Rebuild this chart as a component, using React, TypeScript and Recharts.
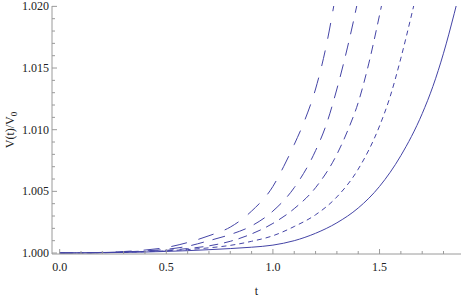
import React from 'react';
import { LineChart, Line, XAxis, YAxis, Label } from 'recharts';

// ---- data ----
const tA = [0, 0.1, 0.2, 0.3, 0.4, 0.5, 0.6, 0.7, 0.8, 0.9, 1.0, 1.1, 1.2, 1.3, 1.4, 1.5, 1.6, 1.7, 1.75, 1.8, 1.85, 1.9];
const vA = [1, 1.00001, 1.00002, 1.00005, 1.00008, 1.00013, 1.00019, 1.00027, 1.00036, 1.00047, 1.00064, 1.001, 1.0016, 1.00245, 1.00365, 1.0054, 1.0079, 1.0113, 1.0135, 1.0162, 1.0194, 1.0229];

const tB = [0, 0.1, 0.2, 0.3, 0.4, 0.5, 0.6, 0.7, 0.8, 0.9, 1.0, 1.1, 1.2, 1.3, 1.4, 1.5, 1.55, 1.6, 1.65, 1.7];
const vB = [1, 1.00001, 1.00003, 1.00006, 1.00011, 1.00018, 1.00028, 1.00042, 1.00062, 1.00095, 1.0014, 1.00215, 1.0031, 1.00455, 1.0068, 1.0103, 1.0127, 1.0158, 1.0193, 1.023];

const tC = [0, 0.1, 0.2, 0.3, 0.4, 0.5, 0.6, 0.7, 0.8, 0.9, 1.0, 1.1, 1.2, 1.3, 1.35, 1.4, 1.45, 1.5, 1.55];
const vC = [1, 1.00001, 1.00003, 1.00007, 1.00013, 1.00022, 1.00036, 1.00058, 1.00095, 1.00155, 1.0024, 1.0036, 1.0053, 1.008, 1.0099, 1.0122, 1.0154, 1.0193, 1.0235];

const tD = [0, 0.1, 0.2, 0.3, 0.4, 0.5, 0.6, 0.7, 0.8, 0.9, 1.0, 1.1, 1.2, 1.25, 1.3, 1.35, 1.4, 1.45];
const vD = [1, 1.00001, 1.00004, 1.00009, 1.00017, 1.0003, 1.00055, 1.001, 1.0015, 1.0022, 1.0034, 1.0053, 1.0083, 1.0104, 1.0133, 1.0167, 1.0206, 1.025];

const tE = [0, 0.1, 0.2, 0.3, 0.4, 0.5, 0.6, 0.7, 0.8, 0.9, 1.0, 1.05, 1.1, 1.15, 1.2, 1.25, 1.3];
const vE = [1, 1.00001, 1.00005, 1.00012, 1.00024, 1.00045, 1.00085, 1.0014, 1.0021, 1.0034, 1.0054, 1.007, 1.0088, 1.0108, 1.0133, 1.0168, 1.0215];

const xMajorTicks = [0, 0.5, 1.0, 1.5];
const xMajorLabels = ['0.0', '0.5', '1.0', '1.5'];
const xMinorTicks = [0.1, 0.2, 0.3, 0.4, 0.6, 0.7, 0.8, 0.9, 1.1, 1.2, 1.3, 1.4, 1.6, 1.7, 1.8];

const yMajorTicks = [1.0, 1.005, 1.01, 1.015, 1.02];
const yMajorLabels = ['1.000', '1.005', '1.010', '1.015', '1.020'];
const yMinorTicks = [1.001, 1.002, 1.003, 1.004, 1.006, 1.007, 1.008, 1.009, 1.011, 1.012, 1.013, 1.014, 1.016, 1.017, 1.018, 1.019];

const xDomain = [-0.036, 1.882];
const yDomain = [0.99992, 1.02003];

// ---- styles ----
const FRAME = '#9a9a9a';
const LINE = '#4444a6';
const FONT = "'Liberation Serif', 'Times New Roman', Times, Tinos, 'Nimbus Roman', 'DejaVu Serif', serif";
const textStyle = { fontFamily: FONT, fontSize: 12 };

const toPts = (ts: number[], vs: number[]) => ts.map((t, i) => ({ t, v: vs[i] }));
const series = [
  { name: 'a', data: toPts(tA, vA), dash: undefined as string | undefined },
  { name: 'b', data: toPts(tB, vB), dash: '5 4' },
  { name: 'c', data: toPts(tC, vC), dash: '9 6' },
  { name: 'd', data: toPts(tD, vD), dash: '13 9' },
  { name: 'e', data: toPts(tE, vE), dash: '16 12' },
];

const idxOf = (arr: number[], v: number) => arr.findIndex((m) => Math.abs(m - v) < 1e-7);

const makeXTick = (side: 'bottom' | 'top') => (props: any) => {
  const { x, y, payload } = props;
  const i = idxOf(xMajorTicks, payload.value);
  const len = i >= 0 ? 5 : 3;
  const dir = side === 'bottom' ? -1 : 1;
  return (
    <g>
      <line x1={x} x2={x} y1={y} y2={y + dir * len} stroke={FRAME} strokeWidth={1} />
      {side === 'bottom' && i >= 0 && (
        <text x={x} y={y + 17} textAnchor="middle" fontFamily={FONT} fontSize={12} fill="#222">
          {xMajorLabels[i]}
        </text>
      )}
    </g>
  );
};

const makeYTick = (side: 'left' | 'right') => (props: any) => {
  const { x, y, payload } = props;
  const i = idxOf(yMajorTicks, payload.value);
  const len = i >= 0 ? 5 : 3;
  const dir = side === 'left' ? 1 : -1;
  return (
    <g>
      <line x1={x} x2={x + dir * len} y1={y} y2={y} stroke={FRAME} strokeWidth={1} />
      {side === 'left' && i >= 0 && (
        <text x={x - 3} y={y + 4} textAnchor="end" fontFamily={FONT} fontSize={12} fill="#222">
          {yMajorLabels[i]}
        </text>
      )}
    </g>
  );
};

const xAll = [...xMajorTicks, ...xMinorTicks].sort((a, b) => a - b);
const yAll = [...yMajorTicks, ...yMinorTicks].sort((a, b) => a - b);

export default function App() {
  return (
    <div style={{ position: 'absolute', left: 0, top: 0, width: 463, height: 300, background: '#fff', fontFamily: FONT }}>
      <LineChart width={463} height={300} margin={{ top: 6, right: 2, bottom: 0, left: 2 }} style={{ fontFamily: FONT }}>
        <XAxis
          xAxisId="b"
          dataKey="t"
          type="number"
          domain={xDomain}
          allowDataOverflow
          ticks={xAll}
          interval={0}
          orientation="bottom"
          height={46}
          tickSize={0}
          tickMargin={0}
          tickLine={false}
          axisLine={{ stroke: FRAME }}
          tick={makeXTick('bottom')}
        >
          <Label
            content={(p: any) => {
              const vb = p.viewBox;
              return (
                <text x={vb.x + vb.width / 2} y={vb.y + 41} textAnchor="middle" fontFamily={FONT} fontSize={12} fill="#222">
                  t
                </text>
              );
            }}
          />
        </XAxis>
        <XAxis
          xAxisId="t"
          dataKey="t"
          type="number"
          domain={xDomain}
          allowDataOverflow
          ticks={xAll}
          interval={0}
          orientation="top"
          height={0}
          tickSize={0}
          tickMargin={0}
          tickLine={false}
          axisLine={{ stroke: FRAME }}
          tick={makeXTick('top')}
        />
        <YAxis
          yAxisId="l"
          type="number"
          domain={yDomain}
          allowDataOverflow
          ticks={yAll}
          interval={0}
          orientation="left"
          width={50}
          tickSize={0}
          tickMargin={0}
          tickLine={false}
          axisLine={{ stroke: FRAME }}
          tick={makeYTick('left')}
        >
          <Label
            content={(p: any) => {
              const vb = p.viewBox;
              const cy = vb.y + vb.height / 2;
              const cx = 14;
              return (
                <text
                  x={cx}
                  y={cy}
                  transform={`rotate(-90 ${cx} ${cy})`}
                  textAnchor="middle"
                  fontFamily={FONT}
                  fontSize={12}
                  fill="#222"
                >
                  V(t)/V<tspan dy={3} fontSize={9}>0</tspan>
                </text>
              );
            }}
          />
        </YAxis>
        <YAxis
          yAxisId="r"
          type="number"
          domain={yDomain}
          allowDataOverflow
          ticks={yAll}
          interval={0}
          orientation="right"
          width={0}
          tickSize={0}
          tickMargin={0}
          tickLine={false}
          axisLine={{ stroke: FRAME }}
          tick={makeYTick('right')}
        />
        {series.map((s) => (
          <Line
            key={s.name}
            xAxisId="b"
            yAxisId="l"
            data={s.data}
            dataKey="v"
            type="monotone"
            stroke={LINE}
            strokeWidth={1}
            strokeDasharray={s.dash}
            dot={false}
            activeDot={false}
            isAnimationActive={false}
          />
        ))}
      </LineChart>
    </div>
  );
}
